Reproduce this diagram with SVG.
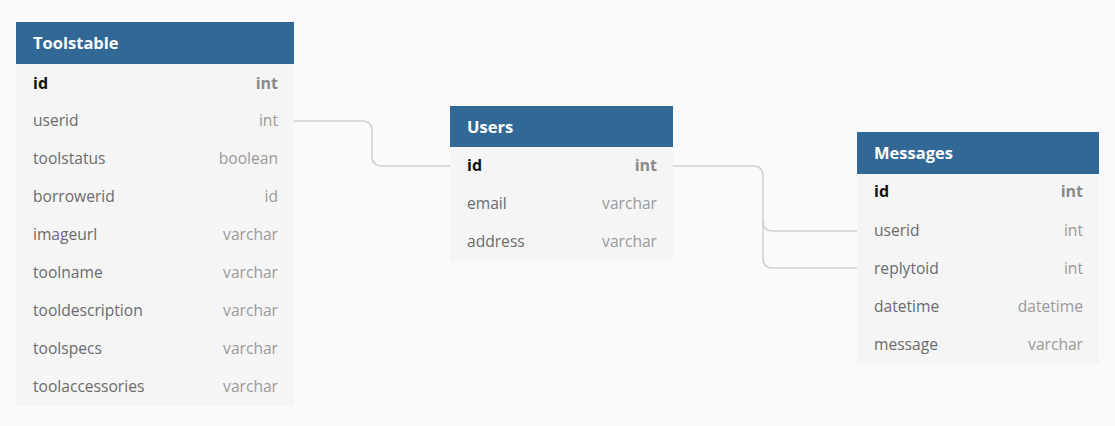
<svg xmlns="http://www.w3.org/2000/svg" width="1115" height="426" viewBox="0 0 1115 426">
<style>
.bg{fill:#fafafa}
.hdr{fill:#316896}
.body{fill:#f5f5f5}
.title{font-family:"Open Sans","Liberation Sans",sans-serif;font-size:16.5px;font-weight:bold;fill:#ffffff}
.pk{font-family:"Open Sans","Liberation Sans",sans-serif;font-size:16px;font-weight:bold;fill:#111111}
.pkt{font-family:"Open Sans","Liberation Sans",sans-serif;font-size:16px;font-weight:bold;fill:#8a8a8a;text-anchor:end}
.f{font-family:"Open Sans","Liberation Sans",sans-serif;font-size:15.6px;fill:#6b6b6b}
.t{font-family:"Open Sans","Liberation Sans",sans-serif;font-size:15.6px;fill:#9a9a9a;text-anchor:end}
.conn{fill:none;stroke:#cfcfcf;stroke-width:1.5}
</style>
<rect class="bg" x="0" y="0" width="1115" height="426"/>
<g id="connectors">
<path class="conn" d="M294,121 H362 Q372,121 372,131 V156 Q372,166 382,166 H450"/>
<path class="conn" d="M673,166 H753 Q763,166 763,176 V221 Q763,231 773,231 H857"/>
<path class="conn" d="M763,221 V258 Q763,268 773,268 H857"/>
</g>
<g id="Toolstable">
<rect class="body" x="16" y="64" width="278" height="342"/>
<rect class="hdr" x="16" y="22" width="278" height="42"/>
<text class="title" x="33" y="49">Toolstable</text>
<text class="pk" x="33" y="89">id</text><text class="pkt" x="278" y="89">int</text>
<text class="f" x="33" y="126">userid</text><text class="t" x="278" y="126">int</text>
<text class="f" x="33" y="164">toolstatus</text><text class="t" x="278" y="164">boolean</text>
<text class="f" x="33" y="202">borrowerid</text><text class="t" x="278" y="202">id</text>
<text class="f" x="33" y="240">imageurl</text><text class="t" x="278" y="240">varchar</text>
<text class="f" x="33" y="278">toolname</text><text class="t" x="278" y="278">varchar</text>
<text class="f" x="33" y="316">tooldescription</text><text class="t" x="278" y="316">varchar</text>
<text class="f" x="33" y="354">toolspecs</text><text class="t" x="278" y="354">varchar</text>
<text class="f" x="33" y="392">toolaccessories</text><text class="t" x="278" y="392">varchar</text>
</g>
<g id="Users">
<rect class="body" x="450" y="147" width="223" height="114"/>
<rect class="hdr" x="450" y="106" width="223" height="41"/>
<text class="title" x="467" y="133">Users</text>
<text class="pk" x="467" y="171">id</text><text class="pkt" x="657" y="171">int</text>
<text class="f" x="467" y="209">email</text><text class="t" x="657" y="209">varchar</text>
<text class="f" x="467" y="247">address</text><text class="t" x="657" y="247">varchar</text>
</g>
<g id="Messages">
<rect class="body" x="857" y="174" width="242" height="190"/>
<rect class="hdr" x="857" y="132" width="242" height="42"/>
<text class="title" x="874" y="159">Messages</text>
<text class="pk" x="874" y="197">id</text><text class="pkt" x="1083" y="197">int</text>
<text class="f" x="874" y="236">userid</text><text class="t" x="1083" y="236">int</text>
<text class="f" x="874" y="274">replytoid</text><text class="t" x="1083" y="274">int</text>
<text class="f" x="874" y="312">datetime</text><text class="t" x="1083" y="312">datetime</text>
<text class="f" x="874" y="350">message</text><text class="t" x="1083" y="350">varchar</text>
</g>
</svg>
